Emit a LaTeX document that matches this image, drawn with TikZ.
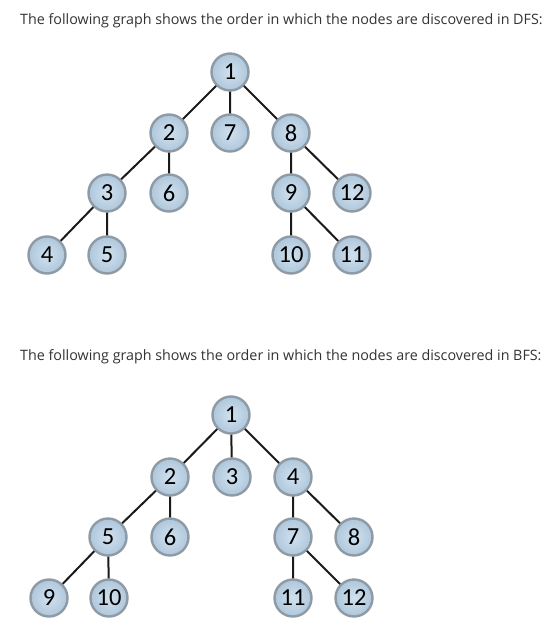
\documentclass[tikz,border=0pt]{standalone}
\usepackage{fontspec}
\setmainfont{Open Sans}
\newfontfamily\numfont{Carlito}
\definecolor{txtgray}{HTML}{333333}
\definecolor{nodein}{HTML}{D0E1EF}
\definecolor{nodeout}{HTML}{AFC7DB}
\definecolor{nodeline}{HTML}{8E9AA5}
\definecolor{edgecol}{HTML}{1A1A1A}
\begin{document}
\begin{tikzpicture}[x=1pt,y=-1pt,
  vert/.style={circle, minimum size=37pt, inner sep=0pt, draw=nodeline, line width=2.4pt,
    shading=radial, inner color=nodein, outer color=nodeout,
    font=\numfont\fontsize{24.5}{24.5}\selectfont, text=black},
  edge/.style={draw=edgecol, line width=2pt},
  caption/.style={anchor=west, inner sep=0pt, text=txtgray, font=\fontsize{14.3}{16}\selectfont}]
\useasboundingbox (0,0) rectangle (549,641);
\fill[white] (0,0) rectangle (549,641);

\node[caption] (t1) at (20,21) {The following graph shows the order in which the nodes are discovered in DFS:};
\node[caption] (t2) at (20,357) {The following graph shows the order in which the nodes are discovered in BFS:};

% DFS tree
\begin{scope}
\node[vert] (d1) at (230,72) {1};
\node[vert] (d2) at (169,133) {2};
\node[vert] (d7) at (230,133) {7};
\node[vert] (d8) at (291,133) {8};
\node[vert] (d3) at (107,193) {3};
\node[vert] (d6) at (169,193) {6};
\node[vert] (d9) at (291,193) {9};
\node[vert] (d12) at (352,193) {12};
\node[vert] (d4) at (47,255) {4};
\node[vert] (d5) at (107,255) {5};
\node[vert] (d10) at (291,255) {10};
\node[vert] (d11) at (352,255) {11};
\path[edge] (d1) -- (d2) (d1) -- (d7) (d1) -- (d8)
  (d2) -- (d3) (d2) -- (d6) (d3) -- (d4) (d3) -- (d5)
  (d8) -- (d9) (d8) -- (d12) (d9) -- (d10) (d9) -- (d11);
\end{scope}

% BFS tree
\begin{scope}
\node[vert] (b1) at (231,415) {1};
\node[vert] (b2) at (170,477) {2};
\node[vert] (b3) at (232,477) {3};
\node[vert] (b4) at (293,477) {4};
\node[vert] (b5) at (108,537) {5};
\node[vert] (b6) at (170,537) {6};
\node[vert] (b7) at (293,537) {7};
\node[vert] (b8) at (354,537) {8};
\node[vert] (b9) at (49,598) {9};
\node[vert] (b10) at (109,598) {10};
\node[vert] (b11) at (293,598) {11};
\node[vert] (b12) at (354,598) {12};
\path[edge] (b1) -- (b2) (b1) -- (b3) (b1) -- (b4)
  (b2) -- (b5) (b2) -- (b6) (b5) -- (b9) (b5) -- (b10)
  (b4) -- (b7) (b4) -- (b8) (b7) -- (b11) (b7) -- (b12);
\end{scope}
\end{tikzpicture}
\end{document}
